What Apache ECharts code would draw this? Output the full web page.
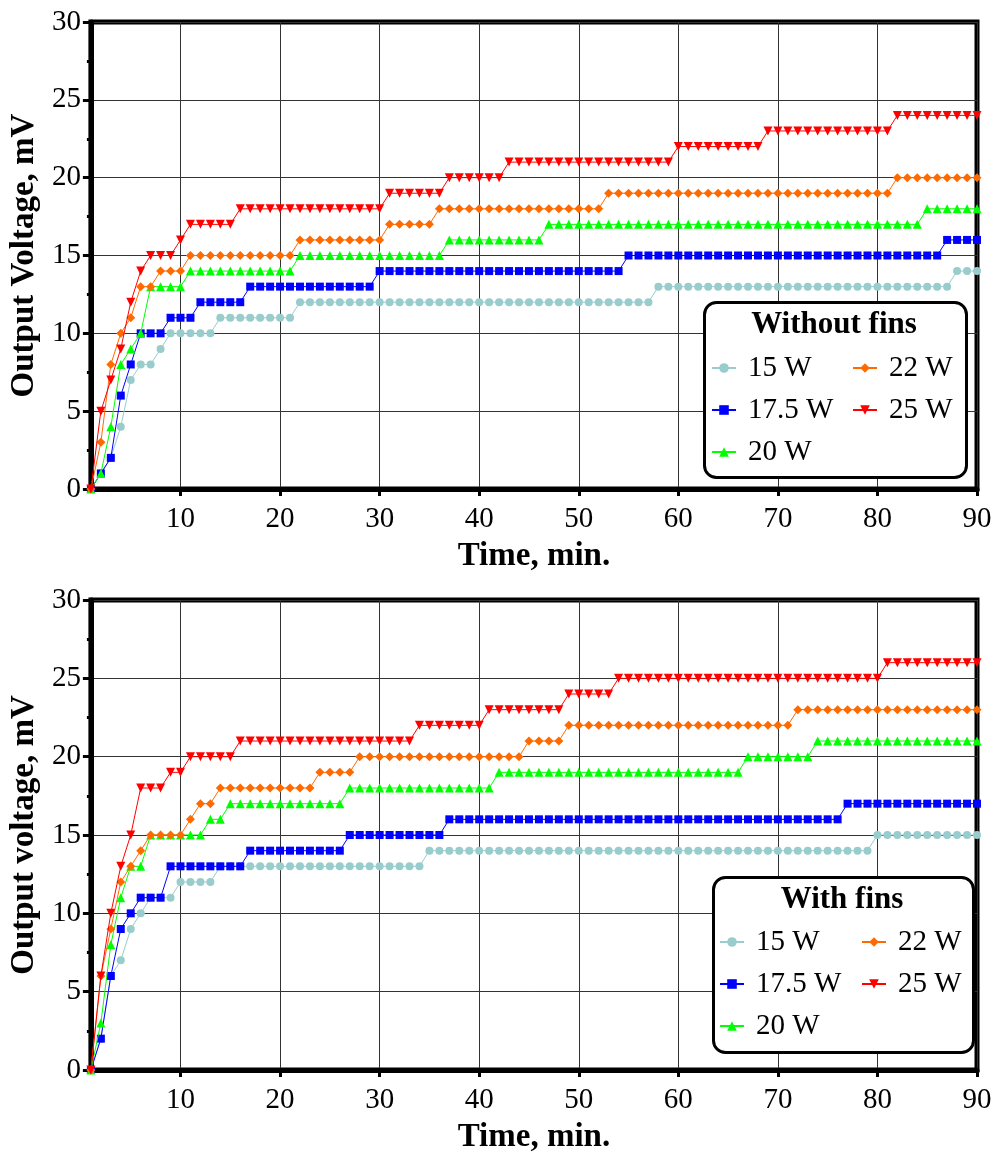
<!DOCTYPE html>
<html>
<head>
<meta charset="utf-8">
<script src="https://cdn.jsdelivr.net/npm/echarts@6/dist/echarts.min.js"></script>
<style>
  html, body { margin: 0; padding: 0; background: #fff; }
  #chart { width: 995px; height: 1155px; }
</style>
</head>
<body>
<div id="chart"></div>
<script>
const chartContainer = document.getElementById('chart');
const chart = echarts.init(chartContainer, null, { renderer: 'canvas' });

// time in minutes
const minutes = [
  1, 2, 3, 4, 5, 6, 7, 8, 9, 10,
  11, 12, 13, 14, 15, 16, 17, 18, 19, 20,
  21, 22, 23, 24, 25, 26, 27, 28, 29, 30,
  31, 32, 33, 34, 35, 36, 37, 38, 39, 40,
  41, 42, 43, 44, 45, 46, 47, 48, 49, 50,
  51, 52, 53, 54, 55, 56, 57, 58, 59, 60,
  61, 62, 63, 64, 65, 66, 67, 68, 69, 70,
  71, 72, 73, 74, 75, 76, 77, 78, 79, 80,
  81, 82, 83, 84, 85, 86, 87, 88, 89, 90
];

const powers = ['15 W', '17.5 W', '20 W', '22 W', '25 W'];
const xTicks = [10, 20, 30, 40, 50, 60, 70, 80, 90];

// without fins (mV)
const noFins15 = [
  0, 1, 2, 4, 7, 8, 8, 9, 10, 10,
  10, 10, 10, 11, 11, 11, 11, 11, 11, 11,
  11, 12, 12, 12, 12, 12, 12, 12, 12, 12,
  12, 12, 12, 12, 12, 12, 12, 12, 12, 12,
  12, 12, 12, 12, 12, 12, 12, 12, 12, 12,
  12, 12, 12, 12, 12, 12, 12, 13, 13, 13,
  13, 13, 13, 13, 13, 13, 13, 13, 13, 13,
  13, 13, 13, 13, 13, 13, 13, 13, 13, 13,
  13, 13, 13, 13, 13, 13, 13, 14, 14, 14
];
const noFins175 = [
  0, 1, 2, 6, 8, 10, 10, 10, 11, 11,
  11, 12, 12, 12, 12, 12, 13, 13, 13, 13,
  13, 13, 13, 13, 13, 13, 13, 13, 13, 14,
  14, 14, 14, 14, 14, 14, 14, 14, 14, 14,
  14, 14, 14, 14, 14, 14, 14, 14, 14, 14,
  14, 14, 14, 14, 15, 15, 15, 15, 15, 15,
  15, 15, 15, 15, 15, 15, 15, 15, 15, 15,
  15, 15, 15, 15, 15, 15, 15, 15, 15, 15,
  15, 15, 15, 15, 15, 15, 16, 16, 16, 16
];
const noFins20 = [
  0, 1, 4, 8, 9, 10, 13, 13, 13, 13,
  14, 14, 14, 14, 14, 14, 14, 14, 14, 14,
  14, 15, 15, 15, 15, 15, 15, 15, 15, 15,
  15, 15, 15, 15, 15, 15, 16, 16, 16, 16,
  16, 16, 16, 16, 16, 16, 17, 17, 17, 17,
  17, 17, 17, 17, 17, 17, 17, 17, 17, 17,
  17, 17, 17, 17, 17, 17, 17, 17, 17, 17,
  17, 17, 17, 17, 17, 17, 17, 17, 17, 17,
  17, 17, 17, 17, 18, 18, 18, 18, 18, 18
];
const noFins22 = [
  0, 3, 8, 10, 11, 13, 13, 14, 14, 14,
  15, 15, 15, 15, 15, 15, 15, 15, 15, 15,
  15, 16, 16, 16, 16, 16, 16, 16, 16, 16,
  17, 17, 17, 17, 17, 18, 18, 18, 18, 18,
  18, 18, 18, 18, 18, 18, 18, 18, 18, 18,
  18, 18, 19, 19, 19, 19, 19, 19, 19, 19,
  19, 19, 19, 19, 19, 19, 19, 19, 19, 19,
  19, 19, 19, 19, 19, 19, 19, 19, 19, 19,
  19, 20, 20, 20, 20, 20, 20, 20, 20, 20
];
const noFins25 = [
  0, 5, 7, 9, 12, 14, 15, 15, 15, 16,
  17, 17, 17, 17, 17, 18, 18, 18, 18, 18,
  18, 18, 18, 18, 18, 18, 18, 18, 18, 18,
  19, 19, 19, 19, 19, 19, 20, 20, 20, 20,
  20, 20, 21, 21, 21, 21, 21, 21, 21, 21,
  21, 21, 21, 21, 21, 21, 21, 21, 21, 22,
  22, 22, 22, 22, 22, 22, 22, 22, 23, 23,
  23, 23, 23, 23, 23, 23, 23, 23, 23, 23,
  23, 24, 24, 24, 24, 24, 24, 24, 24, 24
];

// with fins (mV)
const withFins15 = [
  0, 2, 6, 7, 9, 10, 11, 11, 11, 12,
  12, 12, 12, 13, 13, 13, 13, 13, 13, 13,
  13, 13, 13, 13, 13, 13, 13, 13, 13, 13,
  13, 13, 13, 13, 14, 14, 14, 14, 14, 14,
  14, 14, 14, 14, 14, 14, 14, 14, 14, 14,
  14, 14, 14, 14, 14, 14, 14, 14, 14, 14,
  14, 14, 14, 14, 14, 14, 14, 14, 14, 14,
  14, 14, 14, 14, 14, 14, 14, 14, 14, 15,
  15, 15, 15, 15, 15, 15, 15, 15, 15, 15
];
const withFins175 = [
  0, 2, 6, 9, 10, 11, 11, 11, 13, 13,
  13, 13, 13, 13, 13, 13, 14, 14, 14, 14,
  14, 14, 14, 14, 14, 14, 15, 15, 15, 15,
  15, 15, 15, 15, 15, 15, 16, 16, 16, 16,
  16, 16, 16, 16, 16, 16, 16, 16, 16, 16,
  16, 16, 16, 16, 16, 16, 16, 16, 16, 16,
  16, 16, 16, 16, 16, 16, 16, 16, 16, 16,
  16, 16, 16, 16, 16, 16, 17, 17, 17, 17,
  17, 17, 17, 17, 17, 17, 17, 17, 17, 17
];
const withFins20 = [
  0, 3, 8, 11, 13, 13, 15, 15, 15, 15,
  15, 15, 16, 16, 17, 17, 17, 17, 17, 17,
  17, 17, 17, 17, 17, 17, 18, 18, 18, 18,
  18, 18, 18, 18, 18, 18, 18, 18, 18, 18,
  18, 19, 19, 19, 19, 19, 19, 19, 19, 19,
  19, 19, 19, 19, 19, 19, 19, 19, 19, 19,
  19, 19, 19, 19, 19, 19, 20, 20, 20, 20,
  20, 20, 20, 21, 21, 21, 21, 21, 21, 21,
  21, 21, 21, 21, 21, 21, 21, 21, 21, 21
];
const withFins22 = [
  0, 6, 9, 12, 13, 14, 15, 15, 15, 15,
  16, 17, 17, 18, 18, 18, 18, 18, 18, 18,
  18, 18, 18, 19, 19, 19, 19, 20, 20, 20,
  20, 20, 20, 20, 20, 20, 20, 20, 20, 20,
  20, 20, 20, 20, 21, 21, 21, 21, 22, 22,
  22, 22, 22, 22, 22, 22, 22, 22, 22, 22,
  22, 22, 22, 22, 22, 22, 22, 22, 22, 22,
  22, 23, 23, 23, 23, 23, 23, 23, 23, 23,
  23, 23, 23, 23, 23, 23, 23, 23, 23, 23
];
const withFins25 = [
  0, 6, 10, 13, 15, 18, 18, 18, 19, 19,
  20, 20, 20, 20, 20, 21, 21, 21, 21, 21,
  21, 21, 21, 21, 21, 21, 21, 21, 21, 21,
  21, 21, 21, 22, 22, 22, 22, 22, 22, 22,
  23, 23, 23, 23, 23, 23, 23, 23, 24, 24,
  24, 24, 24, 25, 25, 25, 25, 25, 25, 25,
  25, 25, 25, 25, 25, 25, 25, 25, 25, 25,
  25, 25, 25, 25, 25, 25, 25, 25, 25, 25,
  26, 26, 26, 26, 26, 26, 26, 26, 26, 26
];

const noFins = [noFins15, noFins175, noFins20, noFins22, noFins25];
const withFins = [withFins15, withFins175, withFins20, withFins22, withFins25];

const FONT = 'Liberation Serif';
const colors = ['#99cccc', '#0000ff', '#00ff00', '#ff6a00', '#ff0000'];
const symbols = ['circle', 'rect', 'triangle', 'diamond', 'triangle'];
const symbolSizes = [8, 8, 9, 9, 9];
const rotations = [0, 0, 0, 0, 180];

function makeX(gridIndex) {
  return {
    type: 'value',
    gridIndex: gridIndex,
    min: 1,
    max: 90,
    splitNumber: 9,
    axisLine: { onZero: false, lineStyle: { color: '#000', width: 5 } },
    axisTick: { customValues: xTicks, length: 7, lineStyle: { color: '#000', width: 3 } },
    axisLabel: { customValues: xTicks, margin: 16, color: '#000', fontFamily: FONT, fontSize: 29 },
    splitLine: { show: true, lineStyle: { color: '#333', width: 1 } },
    name: 'Time, min.',
    nameLocation: 'middle',
    nameGap: 51,
    nameTextStyle: { color: '#000', fontFamily: FONT, fontWeight: 'bold', fontSize: 33 }
  };
}

function makeY(gridIndex, title) {
  return {
    type: 'value',
    gridIndex: gridIndex,
    min: 0,
    max: 30,
    interval: 5,
    axisLine: { lineStyle: { color: '#000', width: 5 } },
    axisTick: { length: 8, lineStyle: { color: '#000', width: 3 } },
    minorTick: { show: true, splitNumber: 2, length: 4, lineStyle: { color: '#000', width: 3 } },
    axisLabel: { margin: 10, color: '#000', fontFamily: FONT, fontSize: 29 },
    splitLine: { show: true, lineStyle: { color: '#333', width: 1 } },
    name: title,
    nameLocation: 'middle',
    nameRotate: 90,
    nameGap: 46,
    nameTextStyle: { color: '#000', fontFamily: FONT, fontWeight: 'bold', fontSize: 33 }
  };
}

function makeSeries(sets, axisIndex) {
  return sets.map(function (vals, i) {
    return {
      name: powers[i],
      type: 'line',
      xAxisIndex: axisIndex,
      yAxisIndex: axisIndex,
      data: minutes.map(function (m, k) { return [m, vals[k]]; }),
      symbol: symbols[i],
      symbolSize: symbolSizes[i],
      symbolRotate: rotations[i],
      showAllSymbol: true,
      color: colors[i],
      lineStyle: { width: 1, color: colors[i] },
      itemStyle: { color: colors[i] },
      z: 2 + i
    };
  });
}

function makeLegend(names, left, top) {
  return {
    data: names,
    orient: 'vertical',
    left: left,
    top: top,
    padding: 0,
    itemWidth: 24,
    itemHeight: 12,
    itemGap: 12,
    selectedMode: false,
    textStyle: { color: '#000', fontFamily: FONT, fontSize: 29, lineHeight: 30, padding: [0, 0, 0, 7] }
  };
}

let option;

option = {
  backgroundColor: '#fff',
  animation: false,
  grid: [
    { left: 88, top: 22, width: 889, height: 467, show: true, borderColor: '#000', borderWidth: 5, containLabel: false },
    { left: 88, top: 600, width: 889, height: 471, show: true, borderColor: '#000', borderWidth: 5, containLabel: false }
  ],
  xAxis: [makeX(0), makeX(1)],
  yAxis: [makeY(0, 'Output Voltage, mV'), makeY(1, 'Output voltage, mV')],
  title: [
    { text: 'Without fins', left: 834, top: 309, textAlign: 'center', padding: 0,
      textStyle: { color: '#000', fontFamily: FONT, fontWeight: 'bold', fontSize: 31 } },
    { text: 'With fins', left: 842, top: 884, textAlign: 'center', padding: 0,
      textStyle: { color: '#000', fontFamily: FONT, fontWeight: 'bold', fontSize: 31 } }
  ],
  legend: [
    makeLegend(['15 W', '17.5 W', '20 W'], 711, 353),
    makeLegend(['22 W', '25 W'], 852, 353),
    makeLegend(['15 W', '17.5 W', '20 W'], 719, 927),
    makeLegend(['22 W', '25 W'], 861, 927)
  ],
  graphic: [
    { type: 'rect', left: 703, top: 301, z: 3,
      shape: { width: 262, height: 175, r: 12 },
      style: { fill: '#fff', stroke: '#000', lineWidth: 3 } },
    { type: 'rect', left: 712, top: 876, z: 3,
      shape: { width: 260, height: 175, r: 12 },
      style: { fill: '#fff', stroke: '#000', lineWidth: 3 } }
  ],
  series: makeSeries(noFins, 0).concat(makeSeries(withFins, 1))
};

window.addEventListener('resize', function () {
  chart.resize();
});

option && chart.setOption(option);
</script>
</body>
</html>
